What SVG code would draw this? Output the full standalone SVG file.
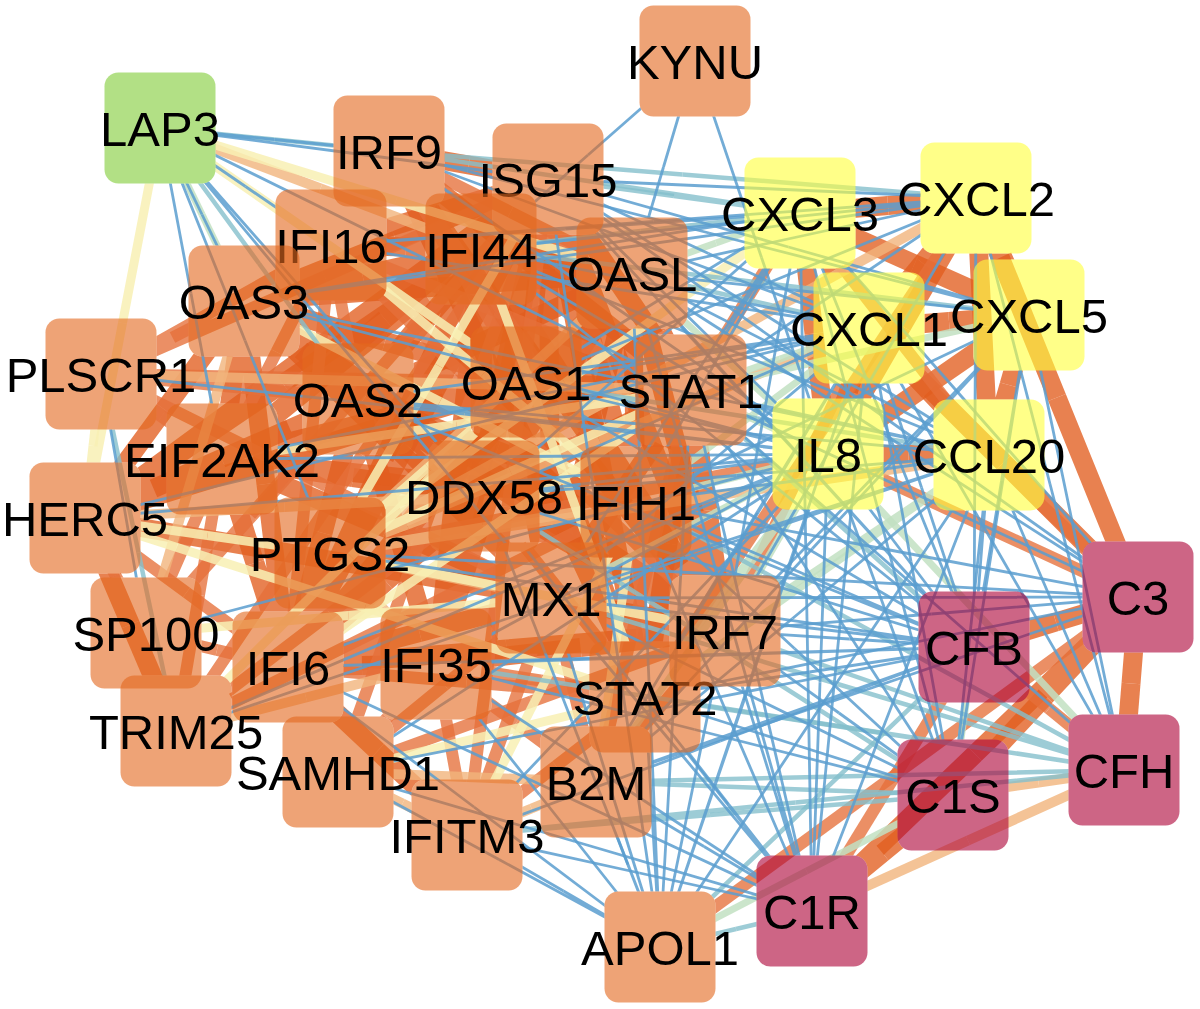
<svg xmlns="http://www.w3.org/2000/svg" width="1200" height="1009" viewBox="0 0 1200 1009">
<style>
#edges path{fill:none;stroke-linecap:butt}
.b{stroke:#5A9ECF;stroke-width:2.8;stroke-opacity:.85}
.t{stroke:#84BFCC;stroke-width:4.5;stroke-opacity:.8}
.lg{stroke:#C2E0C2;stroke-width:7;stroke-opacity:.85}
.py{stroke:#F8F0B4;stroke-width:9;stroke-opacity:.85}
.pe{stroke:#F1B47C;stroke-width:10;stroke-opacity:.8}
.om{stroke:#E5703A;stroke-width:12;stroke-opacity:.78}
.ot{stroke:#E15E1F;stroke-width:19;stroke-opacity:.78}
.node rect{fill-opacity:.61}
.o rect{fill:#E4691F}
.y rect{fill:#FFFF3C}
.m rect{fill:#AD0437}
.g rect{fill:#81CC37}
.node text{font-family:"Liberation Sans",Arial,Helvetica,sans-serif;font-size:49px;text-anchor:middle;fill:#000}
</style>
<defs>
<rect id="wb" width="1200" height="1009" fill="#fff"/>
<rect id="bx" x="-55.5" y="-55.5" width="111" height="111" rx="14" fill="#000"/>
<mask id="kKY" maskUnits="userSpaceOnUse" x="0" y="0" width="1200" height="1009"><use href="#wb"/><use href="#bx" x="695" y="61"/></mask>
<mask id="kLA" maskUnits="userSpaceOnUse" x="0" y="0" width="1200" height="1009"><use href="#wb"/><use href="#bx" x="160" y="128"/></mask>
<mask id="kR9" maskUnits="userSpaceOnUse" x="0" y="0" width="1200" height="1009"><use href="#wb"/><use href="#bx" x="389" y="151"/></mask>
<mask id="kIS" maskUnits="userSpaceOnUse" x="0" y="0" width="1200" height="1009"><use href="#wb"/><use href="#bx" x="548" y="179"/></mask>
<mask id="kX3" maskUnits="userSpaceOnUse" x="0" y="0" width="1200" height="1009"><use href="#wb"/><use href="#bx" x="800" y="213"/></mask>
<mask id="kX2" maskUnits="userSpaceOnUse" x="0" y="0" width="1200" height="1009"><use href="#wb"/><use href="#bx" x="976" y="198"/></mask>
<mask id="kI16" maskUnits="userSpaceOnUse" x="0" y="0" width="1200" height="1009"><use href="#wb"/><use href="#bx" x="331" y="245"/></mask>
<mask id="kI44" maskUnits="userSpaceOnUse" x="0" y="0" width="1200" height="1009"><use href="#wb"/><use href="#bx" x="481" y="249"/></mask>
<mask id="kOL" maskUnits="userSpaceOnUse" x="0" y="0" width="1200" height="1009"><use href="#wb"/><use href="#bx" x="632" y="273"/></mask>
<mask id="kO3" maskUnits="userSpaceOnUse" x="0" y="0" width="1200" height="1009"><use href="#wb"/><use href="#bx" x="244" y="301"/></mask>
<mask id="kX1" maskUnits="userSpaceOnUse" x="0" y="0" width="1200" height="1009"><use href="#wb"/><use href="#bx" x="869" y="328"/></mask>
<mask id="kX5" maskUnits="userSpaceOnUse" x="0" y="0" width="1200" height="1009"><use href="#wb"/><use href="#bx" x="1029" y="315"/></mask>
<mask id="kPL" maskUnits="userSpaceOnUse" x="0" y="0" width="1200" height="1009"><use href="#wb"/><use href="#bx" x="101" y="374"/></mask>
<mask id="kO2" maskUnits="userSpaceOnUse" x="0" y="0" width="1200" height="1009"><use href="#wb"/><use href="#bx" x="358" y="399"/></mask>
<mask id="kO1" maskUnits="userSpaceOnUse" x="0" y="0" width="1200" height="1009"><use href="#wb"/><use href="#bx" x="526" y="382"/></mask>
<mask id="kS1" maskUnits="userSpaceOnUse" x="0" y="0" width="1200" height="1009"><use href="#wb"/><use href="#bx" x="691" y="390"/></mask>
<mask id="kEI" maskUnits="userSpaceOnUse" x="0" y="0" width="1200" height="1009"><use href="#wb"/><use href="#bx" x="222" y="459"/></mask>
<mask id="kIL" maskUnits="userSpaceOnUse" x="0" y="0" width="1200" height="1009"><use href="#wb"/><use href="#bx" x="828" y="454"/></mask>
<mask id="kCC" maskUnits="userSpaceOnUse" x="0" y="0" width="1200" height="1009"><use href="#wb"/><use href="#bx" x="989" y="455"/></mask>
<mask id="kHE" maskUnits="userSpaceOnUse" x="0" y="0" width="1200" height="1009"><use href="#wb"/><use href="#bx" x="85" y="518"/></mask>
<mask id="kDD" maskUnits="userSpaceOnUse" x="0" y="0" width="1200" height="1009"><use href="#wb"/><use href="#bx" x="484" y="496"/></mask>
<mask id="kIH" maskUnits="userSpaceOnUse" x="0" y="0" width="1200" height="1009"><use href="#wb"/><use href="#bx" x="636" y="502"/></mask>
<mask id="kPT" maskUnits="userSpaceOnUse" x="0" y="0" width="1200" height="1009"><use href="#wb"/><use href="#bx" x="330" y="553"/></mask>
<mask id="kC3" maskUnits="userSpaceOnUse" x="0" y="0" width="1200" height="1009"><use href="#wb"/><use href="#bx" x="1138" y="597"/></mask>
<mask id="kMX" maskUnits="userSpaceOnUse" x="0" y="0" width="1200" height="1009"><use href="#wb"/><use href="#bx" x="551" y="598"/></mask>
<mask id="kR7" maskUnits="userSpaceOnUse" x="0" y="0" width="1200" height="1009"><use href="#wb"/><use href="#bx" x="725" y="631"/></mask>
<mask id="kCB" maskUnits="userSpaceOnUse" x="0" y="0" width="1200" height="1009"><use href="#wb"/><use href="#bx" x="974" y="647"/></mask>
<mask id="kSP" maskUnits="userSpaceOnUse" x="0" y="0" width="1200" height="1009"><use href="#wb"/><use href="#bx" x="146" y="633"/></mask>
<mask id="kI6" maskUnits="userSpaceOnUse" x="0" y="0" width="1200" height="1009"><use href="#wb"/><use href="#bx" x="288" y="667"/></mask>
<mask id="kI35" maskUnits="userSpaceOnUse" x="0" y="0" width="1200" height="1009"><use href="#wb"/><use href="#bx" x="436" y="664"/></mask>
<mask id="kS2" maskUnits="userSpaceOnUse" x="0" y="0" width="1200" height="1009"><use href="#wb"/><use href="#bx" x="645" y="697"/></mask>
<mask id="kTR" maskUnits="userSpaceOnUse" x="0" y="0" width="1200" height="1009"><use href="#wb"/><use href="#bx" x="176" y="731"/></mask>
<mask id="kSA" maskUnits="userSpaceOnUse" x="0" y="0" width="1200" height="1009"><use href="#wb"/><use href="#bx" x="338" y="772"/></mask>
<mask id="kCH" maskUnits="userSpaceOnUse" x="0" y="0" width="1200" height="1009"><use href="#wb"/><use href="#bx" x="1124" y="770"/></mask>
<mask id="kCS" maskUnits="userSpaceOnUse" x="0" y="0" width="1200" height="1009"><use href="#wb"/><use href="#bx" x="953" y="795"/></mask>
<mask id="kB2" maskUnits="userSpaceOnUse" x="0" y="0" width="1200" height="1009"><use href="#wb"/><use href="#bx" x="596" y="782"/></mask>
<mask id="kIT" maskUnits="userSpaceOnUse" x="0" y="0" width="1200" height="1009"><use href="#wb"/><use href="#bx" x="467" y="835"/></mask>
<mask id="kCR" maskUnits="userSpaceOnUse" x="0" y="0" width="1200" height="1009"><use href="#wb"/><use href="#bx" x="812" y="911"/></mask>
<mask id="kAP" maskUnits="userSpaceOnUse" x="0" y="0" width="1200" height="1009"><use href="#wb"/><use href="#bx" x="660" y="947"/></mask>
</defs>
<g id="edges">
<g class="ot">
<path mask="url(#kIS)" d="M548 179L514.5 214M548 179L590 226M548 179L537 280.5M548 179L453 289M548 179L396 240M548 179L549.5 388.5M548 179L636.5 405M548 179L619.5 284.5M548 179L516 337.5M548 179L592 340.5M548 179L418 423M548 179L492 421.5M548 179L316.5 348.5M548 179L385 319M548 179L468.5 165M548 179L596.5 438M548 179L439.5 212"/>
<path mask="url(#kI44)" d="M481 249L514.5 214M481 249L556.5 261M481 249L503.5 315.5M481 249L419.5 324M481 249L362.5 275M481 249L516 423.5M481 249L603 440M481 249L384.5 458M481 249L458.5 456.5M481 249L283 383.5M481 249L482.5 372.5M481 249L558.5 375.5M481 249L406 247M481 249L351.5 354"/>
<path mask="url(#kOL)" d="M632 273L590 226M632 273L556.5 261M632 273L579 327.5M632 273L495 336M632 273L438 287M632 273L591.5 435.5M632 273L678.5 452M632 273L661.5 331.5M632 273L558 384.5M632 273L634 387.5M632 273L460 470"/>
<path mask="url(#kO1)" d="M526 382L537 280.5M526 382L503.5 315.5M526 382L579 327.5M526 382L442 390.5M526 382L385 341.5M526 382L538.5 490M526 382L625.5 506.5M526 382L608.5 386M526 382L505 439M526 382L581 442M526 382L374 420.5M526 382L407 524.5M526 382L481 523M526 382L585.5 539.5M526 382L305.5 450"/>
<path mask="url(#kO2)" d="M358 399L453 289M358 399L419.5 324M358 399L495 336M358 399L442 390.5M358 399L301 350M358 399L454.5 498.5M358 399L541.5 515M358 399L290 429M358 399L421 447.5M358 399L497 450.5M358 399L323 533M358 399L397 531.5M358 399L221.5 458.5"/>
<path mask="url(#kO3)" d="M244 301L396 240M244 301L362.5 275M244 301L438 287M244 301L385 341.5M244 301L301 350M244 301L397.5 449.5M244 301L484.5 466M244 301L233 380M244 301L364 398.5M244 301L266 484M244 301L164.5 409.5"/>
<path mask="url(#kMX)" d="M551 598L549.5 388.5M551 598L516 423.5M551 598L591.5 435.5M551 598L538.5 490M551 598L454.5 498.5M551 598L397.5 449.5M551 598L638 614.5M551 598L621 494M551 598L598 647.5M551 598L517.5 547M551 598L593.5 550M551 598L419.5 632.5M551 598L493.5 631M551 598L386.5 528.5M551 598L318 558"/>
<path mask="url(#kR7)" d="M725 631L636.5 405M725 631L603 440M725 631L678.5 452M725 631L625.5 506.5M725 631L541.5 515M725 631L484.5 466M725 631L638 614.5M725 631L708 510.5M725 631L685 664M725 631L604.5 563.5M725 631L680.5 566.5M725 631L557 391M725 631L506.5 649M725 631L580.5 647.5"/>
<path mask="url(#kS1)" d="M691 390L619.5 284.5M691 390L661.5 331.5M691 390L608.5 386M691 390L621 494M691 390L708 510.5M691 390L668 543.5M691 390L540 270.5M691 390L663.5 446M691 390L587.5 443"/>
<path mask="url(#kDD)" d="M484 496L516 337.5M484 496L482.5 372.5M484 496L558 384.5M484 496L505 439M484 496L421 447.5M484 496L364 398.5M484 496L517.5 547M484 496L604.5 563.5M484 496L587.5 443M484 496L560 499M484 496L353 477.5M484 496L386 581.5"/>
<path mask="url(#kIH)" d="M636 502L592 340.5M636 502L558.5 375.5M636 502L634 387.5M636 502L581 442M636 502L497 450.5M636 502L593.5 550M636 502L680.5 566.5M636 502L663.5 446M636 502L560 499M636 502L429 480.5"/>
<path mask="url(#kI6)" d="M288 667L418 423M288 667L384.5 458M288 667L460 470M288 667L407 524.5M288 667L323 533M288 667L266 484M288 667L419.5 632.5M288 667L506.5 649M288 667L386 581.5M288 667L362 665.5M288 667L255 563M288 667L377.5 751"/>
<path mask="url(#kI35)" d="M436 664L492 421.5M436 664L458.5 456.5M436 664L481 523M436 664L397 531.5M436 664L493.5 631M436 664L580.5 647.5M436 664L362 665.5"/>
<path mask="url(#kHE)" d="M85 518L316.5 348.5M85 518L283 383.5M85 518L305.5 450M85 518L221.5 458.5M85 518L164.5 409.5M85 518L318 558M85 518L130.5 624.5M85 518L153.5 488.5"/>
<path mask="url(#kEI)" d="M222 459L385 319M222 459L351.5 354M222 459L374 420.5M222 459L290 429M222 459L233 380M222 459L386.5 528.5M222 459L353 477.5M222 459L429 480.5M222 459L255 563M222 459L153.5 488.5"/>
<path mask="url(#kR9)" d="M389 151L468.5 165M389 151L557 391M389 151L540 270.5M389 151L517 424"/>
<path mask="url(#kS2)" d="M645 697L596.5 438M645 697L585.5 539.5M645 697L598 647.5M645 697L685 664M645 697L668 543.5M645 697L517 424"/>
<path mask="url(#kI16)" d="M331 245L439.5 212M331 245L406 247"/>
<path mask="url(#kTR)" d="M176 731L130.5 624.5"/>
<path mask="url(#kIT)" d="M467 835L377.5 751"/>
<path mask="url(#kX2)" d="M976 198L888 205.5M976 198L922.5 263M976 198L1002.5 256.5M976 198L982.5 326.5M976 198L902 326M976 198L1057 397.5"/>
<path mask="url(#kX3)" d="M800 213L888 205.5M800 213L834.5 270.5M800 213L814 333.5M800 213L914.5 264"/>
<path mask="url(#kX1)" d="M869 328L922.5 263M869 328L834.5 270.5M869 328L949 321.5M869 328L848.5 391M869 328L929 391.5M869 328L1003.5 462.5"/>
<path mask="url(#kX5)" d="M1029 315L1002.5 256.5M1029 315L914.5 264M1029 315L949 321.5M1029 315L1009 385M1029 315L928.5 384.5"/>
<path mask="url(#kCC)" d="M989 455L982.5 326.5M989 455L929 391.5M989 455L1009 385M989 455L908.5 454.5"/>
<path mask="url(#kIL)" d="M828 454L902 326M828 454L814 333.5M828 454L848.5 391M828 454L928.5 384.5M828 454L908.5 454.5"/>
<path mask="url(#kC3)" d="M1138 597L1057 397.5M1138 597L1003.5 462.5M1138 597L1056 622M1138 597L1131 683.5M1138 597L1045.5 696M1138 597L975 754"/>
<path mask="url(#kCB)" d="M974 647L1056 622"/>
<path mask="url(#kCH)" d="M1124 770L1131 683.5"/>
<path mask="url(#kCS)" d="M953 795L1045.5 696M953 795L882.5 853"/>
<path mask="url(#kCR)" d="M812 911L975 754M812 911L882.5 853"/>
</g>
<g class="om">
<path mask="url(#kPL)" d="M101 374L172.5 337.5M101 374L216 309.5M101 374L161.5 416.5M101 374L324.5 276.5M101 374L313.5 378M101 374L229.5 386.5M101 374L326 486"/>
<path mask="url(#kO3)" d="M244 301L172.5 337.5M244 301L287.5 273"/>
<path mask="url(#kI16)" d="M331 245L216 309.5M331 245L287.5 273M331 245L344.5 322M331 245L528 438M331 245L511 317.5M331 245L276.5 352M331 245L309.5 456M331 245L360 198"/>
<path mask="url(#kEI)" d="M222 459L161.5 416.5M222 459L276.5 352M222 459L184 546M222 459L199 595"/>
<path mask="url(#kIS)" d="M548 179L324.5 276.5M548 179L347 406M548 179L362 455M548 179L443 475.5M548 179L507.5 507"/>
<path mask="url(#kO1)" d="M526 382L313.5 378M526 382L457.5 266.5"/>
<path mask="url(#kO2)" d="M358 399L229.5 386.5M358 399L344.5 322M358 399L252 516"/>
<path mask="url(#kMX)" d="M551 598L326 486M551 598L444.5 685M551 598L509 716.5M551 598L573.5 690"/>
<path mask="url(#kR7)" d="M725 631L528 438M725 631L531.5 701.5M725 631L660.5 706.5M725 631L797 479.5"/>
<path mask="url(#kS1)" d="M691 390L511 317.5M691 390L643.5 586M691 390L745.5 301.5"/>
<path mask="url(#kI6)" d="M288 667L309.5 456M288 667L217 650M288 667L232 699M288 667L313 719.5M288 667L466.5 682M288 667L186.5 592.5"/>
<path mask="url(#kSP)" d="M146 633L161 682M146 633L217 650M146 633L184 546M146 633L252 516M146 633L347 406M146 633L115.5 575.5"/>
<path mask="url(#kTR)" d="M176 731L161 682M176 731L232 699M176 731L362 455M176 731L330 613.5M176 731L406 616.5M176 731L199 595"/>
<path mask="url(#kDD)" d="M484 496L330 613.5M484 496L564.5 596.5"/>
<path mask="url(#kIH)" d="M636 502L406 616.5M636 502L512.5 326.5M636 502L640.5 599.5"/>
<path mask="url(#kSA)" d="M338 772L313 719.5M338 772L387 718M338 772L443 475.5M338 772L444.5 685M338 772L531.5 701.5"/>
<path mask="url(#kI35)" d="M436 664L387 718M436 664L451.5 749.5M436 664L516 723M436 664L540.5 680.5"/>
<path mask="url(#kIT)" d="M467 835L451.5 749.5M467 835L509 716.5M467 835L507.5 507M467 835L556 766"/>
<path mask="url(#kS2)" d="M645 697L556 766M645 697L620.5 739.5M645 697L540.5 680.5M645 697L466.5 682M645 697L564.5 596.5M645 697L640.5 599.5M645 697L810.5 447.5"/>
<path mask="url(#kB2)" d="M596 782L620.5 739.5M596 782L573.5 690M596 782L660.5 706.5M596 782L643.5 586M596 782L516 723"/>
<path mask="url(#kR9)" d="M389 151L457.5 266.5M389 151L435 200M389 151L512.5 326.5M389 151L360 198M389 151L510.5 212"/>
<path mask="url(#kI44)" d="M481 249L435 200"/>
<path mask="url(#kOL)" d="M632 273L510.5 212"/>
<path mask="url(#kHE)" d="M85 518L115.5 575.5M85 518L186.5 592.5"/>
<path mask="url(#kPT)" d="M330 553L579 503.5"/>
<path mask="url(#kIL)" d="M828 454L579 503.5M828 454L983 525.5"/>
<path mask="url(#kX1)" d="M869 328L797 479.5"/>
<path mask="url(#kX2)" d="M976 198L810.5 447.5"/>
<path mask="url(#kX3)" d="M800 213L745.5 301.5M800 213L894.5 334"/>
<path mask="url(#kCC)" d="M989 455L894.5 334M989 455L1063.5 526"/>
<path mask="url(#kAP)" d="M660 947L899 772"/>
<path mask="url(#kC3)" d="M1138 597L899 772M1138 597L983 525.5M1138 597L1063.5 526"/>
<path mask="url(#kCB)" d="M974 647L1049 708.5M974 647L893 779"/>
<path mask="url(#kCH)" d="M1124 770L1049 708.5"/>
<path mask="url(#kCR)" d="M812 911L893 779"/>
</g>
<g class="pe">
<path mask="url(#kCS)" d="M953 795L1038.5 782.5"/>
<path mask="url(#kCH)" d="M1124 770L1038.5 782.5M1124 770L968 840.5"/>
<path mask="url(#kCR)" d="M812 911L968 840.5"/>
<path mask="url(#kLA)" d="M160 128L320.5 188.5"/>
<path mask="url(#kI44)" d="M481 249L320.5 188.5"/>
<path mask="url(#kPT)" d="M330 553L481 413M330 553L440.5 575.5M330 553L407 524.5M330 553L383 608.5M330 553L483 527.5M330 553L599.5 440.5M330 553L653 375.5M330 553L659.5 504M330 553L276 506"/>
<path mask="url(#kOL)" d="M632 273L481 413"/>
<path mask="url(#kMX)" d="M551 598L440.5 575.5"/>
<path mask="url(#kDD)" d="M484 496L407 524.5M484 496L284.5 507"/>
<path mask="url(#kI35)" d="M436 664L383 608.5M436 664L306 697.5"/>
<path mask="url(#kIH)" d="M636 502L483 527.5"/>
<path mask="url(#kSP)" d="M146 633L195 467"/>
<path mask="url(#kO3)" d="M244 301L195 467"/>
<path mask="url(#kTR)" d="M176 731L306 697.5"/>
<path mask="url(#kSA)" d="M338 772L402.5 803.5M338 772L467 777"/>
<path mask="url(#kIT)" d="M467 835L402.5 803.5M467 835L531.5 808.5"/>
<path mask="url(#kB2)" d="M596 782L531.5 808.5M596 782L467 777"/>
<path mask="url(#kX1)" d="M869 328L599.5 440.5"/>
<path mask="url(#kX2)" d="M976 198L653 375.5"/>
<path mask="url(#kCC)" d="M989 455L659.5 504"/>
<path mask="url(#kEI)" d="M222 459L276 506"/>
<path mask="url(#kHE)" d="M85 518L284.5 507"/>
<path mask="url(#kPL)" d="M101 374L396 382"/>
<path mask="url(#kS1)" d="M691 390L396 382"/>
</g>
<g class="py">
<path mask="url(#kHE)" d="M85 518L93 446M85 518L122.5 323M85 518L365 607.5M85 518L207.5 535.5"/>
<path mask="url(#kPL)" d="M101 374L93 446"/>
<path mask="url(#kLA)" d="M160 128L122.5 323M160 128L343 255M160 128L396 200.5"/>
<path mask="url(#kO1)" d="M526 382L343 255M526 382L428 467.5M526 382L351 556.5"/>
<path mask="url(#kOL)" d="M632 273L396 200.5"/>
<path mask="url(#kS2)" d="M645 697L365 607.5M645 697L491.5 734.5M645 697L563 473"/>
<path mask="url(#kPT)" d="M330 553L207.5 535.5M330 553L439 366M330 553L428 467.5M330 553L527.5 592M330 553L510.5 471.5M330 553L565 383"/>
<path mask="url(#kIS)" d="M548 179L439 366"/>
<path mask="url(#kR7)" d="M725 631L527.5 592"/>
<path mask="url(#kS1)" d="M691 390L510.5 471.5M691 390L489.5 528.5M691 390L456.5 424.5"/>
<path mask="url(#kI6)" d="M288 667L489.5 528.5"/>
<path mask="url(#kTR)" d="M176 731L351 556.5"/>
<path mask="url(#kIH)" d="M636 502L616 642M636 502L483.5 373.5M636 502L551.5 668.5M636 502L440 401.5"/>
<path mask="url(#kB2)" d="M596 782L616 642"/>
<path mask="url(#kSA)" d="M338 772L491.5 734.5"/>
<path mask="url(#kEI)" d="M222 459L456.5 424.5"/>
<path mask="url(#kI16)" d="M331 245L483.5 373.5"/>
<path mask="url(#kI44)" d="M481 249L563 473"/>
<path mask="url(#kIT)" d="M467 835L551.5 668.5"/>
<path mask="url(#kX3)" d="M800 213L565 383"/>
<path mask="url(#kO3)" d="M244 301L440 401.5"/>
<path mask="url(#kSP)" d="M146 633L348.5 615.5"/>
<path mask="url(#kMX)" d="M551 598L348.5 615.5"/>
</g>
<g class="lg">
<path mask="url(#kIL)" d="M828 454L759.5 422M828 454L776.5 542.5M828 454L689.5 526M828 454L732 478M828 454L730 363.5M828 454L736.5 575.5M828 454L712 618M828 454L976 612"/>
<path mask="url(#kS1)" d="M691 390L759.5 422M691 390L780 359M691 390L860 352.5"/>
<path mask="url(#kR7)" d="M725 631L776.5 542.5M725 631L857 543"/>
<path mask="url(#kMX)" d="M551 598L689.5 526"/>
<path mask="url(#kIH)" d="M636 502L732 478M636 502L752.5 415"/>
<path mask="url(#kOL)" d="M632 273L730 363.5M632 273L716 243"/>
<path mask="url(#kS2)" d="M645 697L736.5 575.5M645 697L817 576"/>
<path mask="url(#kB2)" d="M596 782L712 618"/>
<path mask="url(#kCC)" d="M989 455L857 543M989 455L817 576"/>
<path mask="url(#kCS)" d="M953 795L963.5 721M953 795L806.5 871"/>
<path mask="url(#kCB)" d="M974 647L963.5 721"/>
<path mask="url(#kCH)" d="M1124 770L976 612"/>
<path mask="url(#kX1)" d="M869 328L780 359M869 328L752.5 415"/>
<path mask="url(#kX3)" d="M800 213L716 243"/>
<path mask="url(#kX5)" d="M1029 315L860 352.5"/>
<path mask="url(#kLA)" d="M160 128L202 214.5"/>
<path mask="url(#kO3)" d="M244 301L202 214.5"/>
<path mask="url(#kAP)" d="M660 947L806.5 871"/>
</g>
<g class="t">
<path mask="url(#kI44)" d="M481 249L640.5 231M481 249L755 282"/>
<path mask="url(#kX3)" d="M800 213L640.5 231M800 213L674 196M800 213L594.5 182"/>
<path mask="url(#kIS)" d="M548 179L674 196"/>
<path mask="url(#kR9)" d="M389 151L594.5 182M389 151L682.5 174.5M389 151L274.5 139.5"/>
<path mask="url(#kX2)" d="M976 198L682.5 174.5"/>
<path mask="url(#kOL)" d="M632 273L750.5 300.5"/>
<path mask="url(#kX1)" d="M869 328L750.5 300.5"/>
<path mask="url(#kS1)" d="M691 390L832.5 518.5"/>
<path mask="url(#kCB)" d="M974 647L832.5 518.5M974 647L817 797"/>
<path mask="url(#kR7)" d="M725 631L924.5 700.5"/>
<path mask="url(#kCH)" d="M1124 770L924.5 700.5M1124 770L884.5 733.5M1124 770L860 776M1124 770L795.5 802.5M1124 770L837.5 684M1124 770L880 636M1124 770L780 717"/>
<path mask="url(#kS2)" d="M645 697L884.5 733.5"/>
<path mask="url(#kB2)" d="M596 782L774.5 788.5M596 782L860 776"/>
<path mask="url(#kCS)" d="M953 795L774.5 788.5M953 795L710 815M953 795L718.5 645.5"/>
<path mask="url(#kAP)" d="M660 947L736 929M660 947L817 797"/>
<path mask="url(#kCR)" d="M812 911L736 929"/>
<path mask="url(#kIT)" d="M467 835L710 815M467 835L795.5 802.5"/>
<path mask="url(#kX5)" d="M1029 315L755 282"/>
<path mask="url(#kLA)" d="M160 128L259 263.5M160 128L274.5 139.5"/>
<path mask="url(#kO2)" d="M358 399L259 263.5"/>
<path mask="url(#kMX)" d="M551 598L837.5 684"/>
<path mask="url(#kIH)" d="M636 502L880 636"/>
<path mask="url(#kO1)" d="M526 382L757.5 418.5"/>
<path mask="url(#kCC)" d="M989 455L757.5 418.5"/>
<path mask="url(#kDD)" d="M484 496L718.5 645.5"/>
<path mask="url(#kI35)" d="M436 664L780 717"/>
<path mask="url(#kPL)" d="M101 374L138.5 552.5"/>
<path mask="url(#kTR)" d="M176 731L138.5 552.5"/>
</g>
<g class="b">
<path mask="url(#kKY)" d="M695 61L588 155M695 61L663.5 167M695 61L761.5 257.5"/>
<path mask="url(#kLA)" d="M160 128L274.5 139.5M160 128L354 153.5M160 128L245.5 186.5M160 128L202 214.5M160 128L191 293.5M160 128L425.5 259M160 128L322 312M160 128L355.5 363M160 128L245 340.5"/>
<path mask="url(#kIS)" d="M548 179L354 153.5M548 179L762 188.5M548 179L708.5 253.5M548 179L788.5 247M548 179L688 316.5M548 179L768.5 317M548 179L843 388M548 179L761 413M548 179L604 563"/>
<path mask="url(#kI44)" d="M481 249L588 155M481 249L728.5 223.5M481 249L675 288.5M481 249L654.5 351.5M481 249L735 352M481 249L727.5 448"/>
<path mask="url(#kOL)" d="M632 273L663.5 167M632 273L804 235.5M632 273L830.5 294M632 273L810.5 364M632 273L885 435M632 273L803 460M632 273L722 592M632 273L646 610"/>
<path mask="url(#kIL)" d="M828 454L761.5 257.5M828 454L688 316.5M828 454L654.5 351.5M828 454L656 475M828 454L677 418M828 454L608.5 302.5M828 454L536 377.5M828 454L593 426.5M828 454L525 456.5M828 454L558 560.5M828 454L632 559M828 454L583 613M828 454L647.5 644.5M828 454L502 592.5M828 454L487 543.5M828 454L456.5 486M828 454L464.5 414M828 454L901 550.5M828 454L890.5 624.5M828 454L820 682.5M828 454L744 700.5"/>
<path mask="url(#kR9)" d="M389 151L274.5 139.5M389 151L629 239.5M389 151L709 233M389 151L608.5 302.5"/>
<path mask="url(#kI16)" d="M331 245L245.5 186.5M331 245L565.5 229M331 245L653.5 221.5M331 245L600 286.5"/>
<path mask="url(#kO3)" d="M244 301L202 214.5M244 301L522 257M244 301L610 249.5M244 301L536 377.5M244 301L616.5 378"/>
<path mask="url(#kEI)" d="M222 459L191 293.5M222 459L525 456.5M222 459L545.5 393.5"/>
<path mask="url(#kS1)" d="M691 390L425.5 259M691 390L745.5 301.5M691 390L833.5 294M691 390L840 422.5M691 390L914.5 493.5M691 390L822 592.5M691 390L751.5 650.5M691 390L675.5 668.5M691 390L907.5 580"/>
<path mask="url(#kDD)" d="M484 496L322 312M484 496L642 354.5M484 496L676.5 412M484 496L656 475M484 496L736.5 475.5M484 496L729 571.5M484 496L648 703.5M484 496L572 721.5"/>
<path mask="url(#kMX)" d="M551 598L355.5 363M551 598L675.5 405.5M551 598L710 463M551 598L770 526.5M551 598L844.5 597.5M551 598L762.5 622.5M551 598L752 696.5M551 598L681.5 754.5M551 598L605.5 772.5"/>
<path mask="url(#kPT)" d="M330 553L245 340.5M330 553L734 575M330 553L652 600"/>
<path mask="url(#kX2)" d="M976 198L762 188.5M976 198L728.5 223.5M976 198L804 235.5M976 198L833.5 294M976 198L850.5 414.5M976 198L751 290M976 198L653.5 221.5M976 198L610 249.5M976 198L975 422.5M976 198L1050 484"/>
<path mask="url(#kX1)" d="M869 328L708.5 253.5M869 328L675 288.5M869 328L710 463M869 328L757 512.5M869 328L732.5 555M869 328L676.5 412M869 328L697.5 355M869 328L629 239.5M869 328L600 286.5M869 328L613.5 363.5M869 328L545.5 393.5M869 328L477 423M869 328L921.5 487.5M869 328L911 561.5M869 328L840.5 619.5M869 328L996.5 549M869 328L764.5 637.5"/>
<path mask="url(#kX5)" d="M1029 315L788.5 247M1029 315L830.5 294M1029 315L877 473M1029 315L812.5 548.5M1029 315L832.5 408.5M1029 315L709 233M1029 315L1001.5 481M1029 315L1076.5 542.5M1029 315L991 555"/>
<path mask="url(#kCC)" d="M989 455L768.5 317M989 455L735 352M989 455L810.5 364M989 455L840 422.5M989 455L770 526.5M989 455L792.5 618.5M989 455L812.5 478.5M989 455L736.5 475.5M989 455L616.5 378M989 455L673.5 427M989 455L582.5 593M989 455L981.5 551M989 455L971 625M989 455L900.5 683M989 455L1056.5 612.5M989 455L824.5 701"/>
<path mask="url(#kC3)" d="M1138 597L843 388M1138 597L885 435M1138 597L914.5 493.5M1138 597L931.5 614M1138 597L844.5 597.5M1138 597L891.5 647M1138 597L867 689.5M1138 597L887 549.5M1138 597L734 575M1138 597L969 405"/>
<path mask="url(#kCB)" d="M974 647L761 413M974 647L727.5 448M974 647L803 460M974 647L849.5 639M974 647L762.5 622.5M974 647L809.5 672M974 647L785 714.5M974 647L805 574.5M974 647L729 571.5M974 647L750 514.5M974 647L666 523M974 647L631 657M974 647L705 655.5M974 647L656 709.5M974 647L720.5 741M974 647L652 600M974 647L901 550.5M974 647L921.5 487.5M974 647L887 430M974 647L981.5 551M974 647L1001.5 481M974 647L975 422.5"/>
<path mask="url(#kAP)" d="M660 947L604 563M660 947L646 610M660 947L675.5 668.5M660 947L692.5 789M660 947L605.5 772.5M660 947L652.5 822M660 947L628 864.5M660 947L572 721.5M660 947L474 807M660 947L548 805.5M660 947L499 859.5M660 947L563.5 891M660 947L744 700.5M660 947L764.5 637.5M660 947L824.5 701"/>
<path mask="url(#kCR)" d="M812 911L722 592M812 911L751.5 650.5M812 911L768.5 771M812 911L681.5 754.5M812 911L728.5 804M812 911L704 846.5M812 911L724 706.5M812 911L648 703.5M812 911L550 789M812 911L624 787.5M812 911L575 841.5M812 911L639.5 873M812 911L820 682.5M812 911L840.5 619.5M812 911L806 562M812 911L900.5 683"/>
<path mask="url(#kX3)" d="M800 213L745.5 301.5M800 213L762.5 422M800 213L675.5 405.5M800 213L718 357.5M800 213L642 354.5M800 213L663 297.5M800 213L565.5 229M800 213L522 257M800 213L887 430M800 213L876.5 504M800 213L806 562M800 213L969 405"/>
<path mask="url(#kCS)" d="M953 795L822 592.5M953 795L839 713M953 795L752 696.5M953 795L799 746M953 795L794.5 648.5M953 795L694.5 729.5M953 795L890.5 624.5M953 795L911 561.5M953 795L876.5 504M953 795L971 625M953 795L991 555"/>
<path mask="url(#kCH)" d="M1124 770L907.5 580M1124 770L996.5 549M1124 770L1056.5 612.5M1124 770L1076.5 542.5M1124 770L1050 484"/>
<path mask="url(#kR7)" d="M725 631L762.5 422M725 631L850.5 414.5M725 631L877 473M725 631L931.5 614M725 631L849.5 639M725 631L839 713M725 631L768.5 771M725 631L692.5 789"/>
<path mask="url(#kS2)" d="M645 697L757 512.5M645 697L891.5 647M645 697L809.5 672M645 697L799 746M645 697L728.5 804M645 697L652.5 822"/>
<path mask="url(#kB2)" d="M596 782L792.5 618.5M596 782L867 689.5M596 782L785 714.5M596 782L704 846.5M596 782L628 864.5M596 782L732.5 555M596 782L812.5 548.5"/>
<path mask="url(#kIH)" d="M636 502L718 357.5M636 502L832.5 408.5M636 502L812.5 478.5M636 502L887 549.5M636 502L805 574.5M636 502L724 706.5M636 502L794.5 648.5"/>
<path mask="url(#kO1)" d="M526 382L663 297.5M526 382L751 290M526 382L697.5 355M526 382L677 418M526 382L750 514.5"/>
<path mask="url(#kO2)" d="M358 399L613.5 363.5M358 399L593 426.5M358 399L673.5 427M358 399L666 523"/>
<path mask="url(#kI6)" d="M288 667L558 560.5M288 667L631 657M288 667L550 789M288 667L474 807"/>
<path mask="url(#kI35)" d="M436 664L632 559M436 664L705 655.5M436 664L694.5 729.5M436 664L624 787.5M436 664L548 805.5"/>
<path mask="url(#kSA)" d="M338 772L583 613M338 772L656 709.5M338 772L575 841.5M338 772L499 859.5"/>
<path mask="url(#kIT)" d="M467 835L647.5 644.5M467 835L720.5 741M467 835L639.5 873M467 835L563.5 891"/>
<path mask="url(#kTR)" d="M176 731L502 592.5M176 731L582.5 593"/>
<path mask="url(#kSP)" d="M146 633L487 543.5M146 633L123.5 503.5"/>
<path mask="url(#kHE)" d="M85 518L456.5 486M85 518L477 423"/>
<path mask="url(#kPL)" d="M101 374L123.5 503.5M101 374L464.5 414"/>
</g>
</g>
<g id="nodes">
<g id="n-IRF9" class="node o" transform="translate(389,151)"><rect x="-55.5" y="-55.5" width="111" height="111" rx="14"/><text y="18">IRF9</text></g>
<g id="n-ISG15" class="node o" transform="translate(548,179)"><rect x="-55.5" y="-55.5" width="111" height="111" rx="14"/><text y="18">ISG15</text></g>
<g id="n-IFI16" class="node o" transform="translate(331,245)"><rect x="-55.5" y="-55.5" width="111" height="111" rx="14"/><text y="18">IFI16</text></g>
<g id="n-IFI44" class="node o" transform="translate(481,249)"><rect x="-55.5" y="-55.5" width="111" height="111" rx="14"/><text y="18">IFI44</text></g>
<g id="n-OASL" class="node o" transform="translate(632,273)"><rect x="-55.5" y="-55.5" width="111" height="111" rx="14"/><text y="18">OASL</text></g>
<g id="n-OAS3" class="node o" transform="translate(244,301)"><rect x="-55.5" y="-55.5" width="111" height="111" rx="14"/><text y="18">OAS3</text></g>
<g id="n-PLSCR1" class="node o" transform="translate(101,374)"><rect x="-55.5" y="-55.5" width="111" height="111" rx="14"/><text y="18">PLSCR1</text></g>
<g id="n-OAS2" class="node o" transform="translate(358,399)"><rect x="-55.5" y="-55.5" width="111" height="111" rx="14"/><text y="18">OAS2</text></g>
<g id="n-OAS1" class="node o" transform="translate(526,382)"><rect x="-55.5" y="-55.5" width="111" height="111" rx="14"/><text y="18">OAS1</text></g>
<g id="n-STAT1" class="node o" transform="translate(691,390)"><rect x="-55.5" y="-55.5" width="111" height="111" rx="14"/><text y="18">STAT1</text></g>
<g id="n-HERC5" class="node o" transform="translate(85,518)"><rect x="-55.5" y="-55.5" width="111" height="111" rx="14"/><text y="18">HERC5</text></g>
<g id="n-EIF2AK2" class="node o" transform="translate(222,459)"><rect x="-55.5" y="-55.5" width="111" height="111" rx="14"/><text y="18">EIF2AK2</text></g>
<g id="n-DDX58" class="node o" transform="translate(484,496)"><rect x="-55.5" y="-55.5" width="111" height="111" rx="14"/><text y="18">DDX58</text></g>
<g id="n-IFIH1" class="node o" transform="translate(636,502)"><rect x="-55.5" y="-55.5" width="111" height="111" rx="14"/><text y="18">IFIH1</text></g>
<g id="n-PTGS2" class="node o" transform="translate(330,553)"><rect x="-55.5" y="-55.5" width="111" height="111" rx="14"/><text y="18">PTGS2</text></g>
<g id="n-MX1" class="node o" transform="translate(551,598)"><rect x="-55.5" y="-55.5" width="111" height="111" rx="14"/><text y="18">MX1</text></g>
<g id="n-SP100" class="node o" transform="translate(146,633)"><rect x="-55.5" y="-55.5" width="111" height="111" rx="14"/><text y="18">SP100</text></g>
<g id="n-IFI6" class="node o" transform="translate(288,667)"><rect x="-55.5" y="-55.5" width="111" height="111" rx="14"/><text y="18">IFI6</text></g>
<g id="n-IFI35" class="node o" transform="translate(436,664)"><rect x="-55.5" y="-55.5" width="111" height="111" rx="14"/><text y="18">IFI35</text></g>
<g id="n-STAT2" class="node o" transform="translate(645,697)"><rect x="-55.5" y="-55.5" width="111" height="111" rx="14"/><text y="18">STAT2</text></g>
<g id="n-IRF7" class="node o" transform="translate(725,631)"><rect x="-55.5" y="-55.5" width="111" height="111" rx="14"/><text y="18">IRF7</text></g>
<g id="n-TRIM25" class="node o" transform="translate(176,731)"><rect x="-55.5" y="-55.5" width="111" height="111" rx="14"/><text y="18">TRIM25</text></g>
<g id="n-B2M" class="node o" transform="translate(596,782)"><rect x="-55.5" y="-55.5" width="111" height="111" rx="14"/><text y="18">B2M</text></g>
<g id="n-IFITM3" class="node o" transform="translate(467,835)"><rect x="-55.5" y="-55.5" width="111" height="111" rx="14"/><text y="18">IFITM3</text></g>
<g id="n-SAMHD1" class="node o" transform="translate(338,772)"><rect x="-55.5" y="-55.5" width="111" height="111" rx="14"/><text y="18">SAMHD1</text></g>
<g id="n-KYNU" class="node o" transform="translate(695,61)"><rect x="-55.5" y="-55.5" width="111" height="111" rx="14"/><text y="18">KYNU</text></g>
<g id="n-APOL1" class="node o" transform="translate(660,947)"><rect x="-55.5" y="-55.5" width="111" height="111" rx="14"/><text y="18">APOL1</text></g>
<g id="n-LAP3" class="node g" transform="translate(160,128)"><rect x="-55.5" y="-55.5" width="111" height="111" rx="14"/><text y="18">LAP3</text></g>
<g id="n-CXCL3" class="node y" transform="translate(800,213)"><rect x="-55.5" y="-55.5" width="111" height="111" rx="14"/><text y="18">CXCL3</text></g>
<g id="n-CXCL2" class="node y" transform="translate(976,198)"><rect x="-55.5" y="-55.5" width="111" height="111" rx="14"/><text y="18">CXCL2</text></g>
<g id="n-CXCL1" class="node y" transform="translate(869,328)"><rect x="-55.5" y="-55.5" width="111" height="111" rx="14"/><text y="18">CXCL1</text></g>
<g id="n-CXCL5" class="node y" transform="translate(1029,315)"><rect x="-55.5" y="-55.5" width="111" height="111" rx="14"/><text y="18">CXCL5</text></g>
<g id="n-IL8" class="node y" transform="translate(828,454)"><rect x="-55.5" y="-55.5" width="111" height="111" rx="14"/><text y="18">IL8</text></g>
<g id="n-CCL20" class="node y" transform="translate(989,455)"><rect x="-55.5" y="-55.5" width="111" height="111" rx="14"/><text y="18">CCL20</text></g>
<g id="n-C3" class="node m" transform="translate(1138,597)"><rect x="-55.5" y="-55.5" width="111" height="111" rx="14"/><text y="18">C3</text></g>
<g id="n-CFB" class="node m" transform="translate(974,647)"><rect x="-55.5" y="-55.5" width="111" height="111" rx="14"/><text y="18">CFB</text></g>
<g id="n-CFH" class="node m" transform="translate(1124,770)"><rect x="-55.5" y="-55.5" width="111" height="111" rx="14"/><text y="18">CFH</text></g>
<g id="n-C1S" class="node m" transform="translate(953,795)"><rect x="-55.5" y="-55.5" width="111" height="111" rx="14"/><text y="18">C1S</text></g>
<g id="n-C1R" class="node m" transform="translate(812,911)"><rect x="-55.5" y="-55.5" width="111" height="111" rx="14"/><text y="18">C1R</text></g>
</g>
</svg>
